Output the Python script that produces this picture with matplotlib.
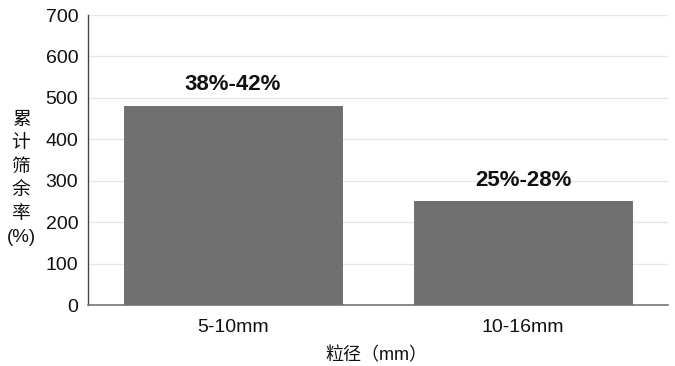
import matplotlib
matplotlib.use("Agg")
import matplotlib.pyplot as plt

plt.rcParams['font.family'] = ['Liberation Sans', 'Noto Sans CJK SC', 'DejaVu Sans']

# Chart data
categories = ["5-10mm", "10-16mm"]
values = [480, 250]
bar_labels = ["38%-42%", "25%-28%"]
y_ticks = [0, 100, 200, 300, 400, 500, 600, 700]

fig = plt.figure(figsize=(6.75, 3.66), dpi=100)
ax = fig.add_axes([88 / 675, 1 - 305 / 366, 580 / 675, 290 / 366])

x = range(len(categories))
ax.bar(x, values, width=0.75, color='#707070', edgecolor='#666666',
       linewidth=0.6, zorder=3)

for xi, v, lab in zip(x, values, bar_labels):
    ax.text(xi, v + 26, lab, ha='center', va='bottom', fontsize=16,
            fontweight='bold', color='#111111', zorder=4)

ax.set_xlim(-0.5, 1.5)
ax.set_ylim(0, 700)
ax.set_yticks(y_ticks)
ax.set_xticks(list(x))
ax.set_xticklabels(categories)
ax.tick_params(axis='both', length=0, labelsize=14, colors='#111111')
ax.tick_params(axis='y', pad=7)
ax.tick_params(axis='x', pad=10)

ax.grid(axis='y', color='#e6e6e6', linewidth=1, zorder=0)
for s in ['top', 'right']:
    ax.spines[s].set_visible(False)
ax.spines['left'].set_color('#444444')
ax.spines['bottom'].set_color('#777777')
ax.spines['left'].set_linewidth(1.0)
ax.spines['bottom'].set_linewidth(1.2)

fig.text(21 / 675, 1 - 179 / 366, "累\n计\n筛\n余\n率\n(%)", ha='center',
         va='center', fontsize=13.5, linespacing=1.5, color='#111111')
fig.text(376 / 675, 1 - 356 / 366, "粒径（mm）", ha='center', va='center',
         fontsize=13, color='#111111')

fig.savefig("out.png", dpi=100)
